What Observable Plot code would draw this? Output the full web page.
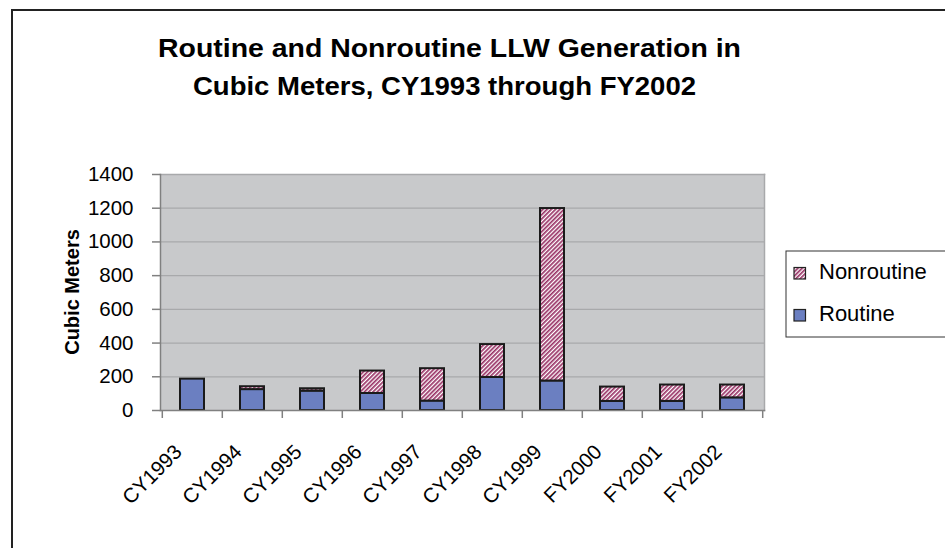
<!DOCTYPE html>
<html><head><meta charset="utf-8">
<script src="https://cdn.jsdelivr.net/npm/d3@7"></script>
<script src="https://cdn.jsdelivr.net/npm/@observablehq/plot@0.6"></script>
<style>
html,body{margin:0;padding:0;background:#fff;}
#wrap{position:relative;width:945px;height:548px;overflow:hidden;background:#fff;font-family:"Liberation Sans",Arial,sans-serif;}
#border{position:absolute;left:11px;top:9px;width:1000px;height:600px;border:2px solid #222;box-sizing:border-box;}
#chart{position:absolute;left:0;top:0;}
#overlay{position:absolute;left:0;top:0;}
</style></head><body>
<div id="wrap"><div id="border"></div><div id="chart"></div><svg id="overlay" width="945" height="548"></svg></div>
<script>
const categories = ["CY1993","CY1994","CY1995","CY1996","CY1997","CY1998","CY1999","FY2000","FY2001","FY2002"];
const routine    = [186, 124, 115, 101, 56, 196, 175, 54, 54, 75];
const nonroutine = [0, 17, 14, 133, 192, 195, 1023, 85, 97, 76];
const yTicks = [0, 200, 400, 600, 800, 1000, 1200, 1400];
const legendNames = ["Nonroutine", "Routine"];
const titleLines = ["Routine and Nonroutine LLW Generation in", "Cubic Meters, CY1993 through FY2002"];
const yLabel = "Cubic Meters";

const routineColor = "#6b7fc1";
const stripeColor = "#993366";

const rows = categories.map((c, i) => ({category: c, routine: routine[i], nonroutine: nonroutine[i], total: routine[i] + nonroutine[i]}));

// overlay defs (pattern shared by plot and legend)
const ov = d3.select("#overlay");
const pat = ov.append("defs").append("pattern")
  .attr("id", "stripes").attr("patternUnits", "userSpaceOnUse")
  .attr("width", 3).attr("height", 3).attr("patternTransform", "rotate(45)");
pat.append("rect").attr("width", 3).attr("height", 3).attr("fill", "#fff");
pat.append("rect").attr("width", 1.7).attr("height", 3).attr("fill", stripeColor);

const mL = 160, mR = 181, W = 945;
const step = (W - mR - mL) / categories.length;
const font = "'Liberation Sans', Arial, sans-serif";

const plot = Plot.plot({
  width: W, height: 548,
  marginLeft: mL, marginRight: mR, marginTop: 174, marginBottom: 138,
  style: {fontFamily: font, fontSize: "20px", color: "#000", background: "transparent", overflow: "visible"},
  x: {domain: categories, paddingInner: 0.6, paddingOuter: 0.3},
  y: {domain: [0, 1400]},
  marks: [
    Plot.frame({fill: "#c8c9cb", stroke: null}),
    Plot.gridY(yTicks, {stroke: "#a8a9ab", strokeOpacity: 1, strokeWidth: 1.2}),
    Plot.frame({anchor: "top", stroke: "#a8a9ab", strokeWidth: 1.5}),
    Plot.frame({anchor: "right", stroke: "#a8a9ab", strokeWidth: 1.5}),
    Plot.barY(rows, {x: "category", y1: 0, y2: "routine", fill: routineColor, stroke: "#1a1a1a", strokeWidth: 2}),
    Plot.barY(rows, {x: "category", y1: "routine", y2: "total", fill: "url(#stripes)", stroke: "#1a1a1a", strokeWidth: 2}),
    Plot.frame({anchor: "left", stroke: "#808080", strokeWidth: 1.5}),
    Plot.frame({anchor: "bottom", stroke: "#808080", strokeWidth: 1.5}),
    Plot.ruleX(categories, {x: d => d, y1: 0, y2: 0, dx: -step / 2, insetBottom: -8, stroke: "#808080", strokeWidth: 1.5}),
    Plot.ruleX(categories.slice(-1), {x: d => d, y1: 0, y2: 0, dx: step / 2, insetBottom: -8, stroke: "#808080", strokeWidth: 1.5}),
    Plot.axisY(yTicks, {tickSize: 8, tickPadding: 19, tickFormat: d => String(d), stroke: "#808080", strokeWidth: 1.5, fill: "#000", fontSize: 20.5, label: null}),
    Plot.axisX({tickSize: 0, tickRotate: -45, tickPadding: 38, dx: -14, fill: "#000", fontSize: 20.5, label: null})
  ]
});
document.getElementById("chart").appendChild(plot);

// title
const tl = [{x: 158, y: 57, w: 583}, {x: 193, y: 95, w: 503}];
titleLines.forEach((t, i) => {
  ov.append("text").attr("x", tl[i].x).attr("y", tl[i].y)
    .attr("textLength", tl[i].w).attr("lengthAdjust", "spacingAndGlyphs")
    .attr("font-family", font).attr("font-weight", "bold").attr("font-size", 26)
    .attr("fill", "#000").text(t);
});
// y label
ov.append("text").attr("transform", "translate(79,292) rotate(-90)")
  .attr("text-anchor", "middle").attr("font-family", font).attr("font-weight", "bold")
  .attr("font-size", 20).attr("fill", "#000").text(yLabel);
// legend
const lg = ov.append("g");
lg.append("rect").attr("x", 786).attr("y", 251).attr("width", 180).attr("height", 86)
  .attr("fill", "#fff").attr("stroke", "#333").attr("stroke-width", 1);
const legFills = ["url(#stripes)", routineColor];
const legY = [279, 321];
legendNames.forEach((n, i) => {
  lg.append("rect").attr("x", 794).attr("y", legY[i] - 11.5).attr("width", 11.5).attr("height", 11.5)
    .attr("fill", legFills[i]).attr("stroke", "#222").attr("stroke-width", 1.2);
  lg.append("text").attr("x", 819).attr("y", legY[i]).attr("font-family", font)
    .attr("font-size", 22).attr("fill", "#000").text(n);
});
</script>
</body></html>
